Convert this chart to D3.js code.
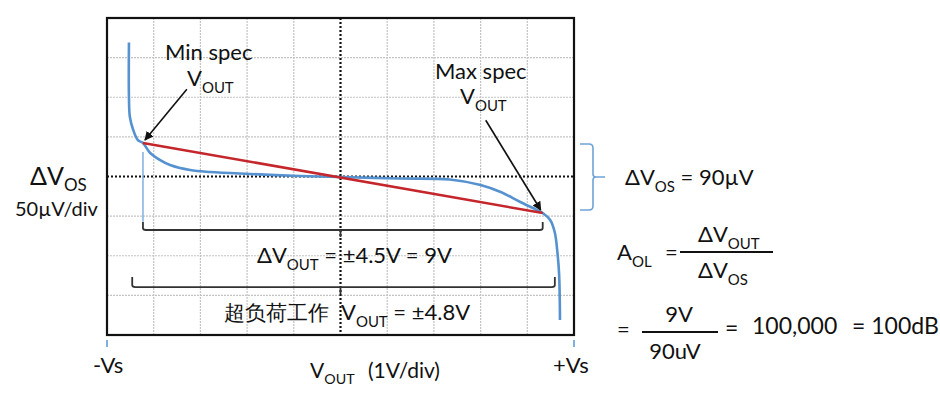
<!DOCTYPE html>
<html>
<head>
<meta charset="utf-8">
<script src="https://cdn.jsdelivr.net/npm/d3@7/dist/d3.min.js"></script>
<style>
  body { margin: 0; background: #fff; }
  text { font-family: Lato, "Noto Sans", sans-serif; fill: #111; }
</style>
</head>
<body>
<div id="chart"></div>
<script>
// V_OUT (volts) vs delta V_OS (microvolts)
var curveV  = [-4.53, -4.53, -4.51, -4.44, -4.34, -4.23, -4.08, -3.87, -3.65, -3.22, -2.79, -1.94, -0.87, 0, 1.27, 2.34, 3.0, 3.43, 3.85, 4.21, 4.33, 4.49, 4.59, 4.64, 4.68, 4.70];
var curveUV = [169, 100, 75, 59, 46, 42.3, 30, 21, 14.5, 8.2, 5.7, 3.2, 0.6, -0.6, -2.5, -3.8, -10.7, -19.6, -32.2, -42.3, -46.1, -55, -71, -93, -122, -181];

// min / max spec points joined by the red line
var specV  = [-4.23, 4.33];
var specUV = [42.3, -46.1];

// where the arrows start (label side)
var arrowFromV  = [-3.29, 3.11];
var arrowFromUV = [110, 71];

// bracket ends (volts)
var innerBracket = [-4.23, 4.33];
var outerBracket = [-4.46, 4.59];

var xDomain = [-5, 5],   // 1V/div
    yDomain = [-200, 200]; // 50uV/div

var margin = { top: 18, left: 107 },
    plotW = 467,
    plotH = 317;

var svg = d3.select("#chart")
    .append("svg")
    .attr("width", 940)
    .attr("height", 395);

var x = d3.scaleLinear().domain(xDomain).range([margin.left, margin.left + plotW]);
var y = d3.scaleLinear().domain(yDomain).range([margin.top + plotH, margin.top]);

var defs = svg.append("defs");
defs.append("marker")
    .attr("id", "arrow")
    .attr("viewBox", "0 0 10 10")
    .attr("refX", 9).attr("refY", 5)
    .attr("markerWidth", 9).attr("markerHeight", 9)
    .attr("markerUnits", "userSpaceOnUse")
    .attr("orient", "auto")
    .append("path")
    .attr("d", "M0,0 L10,5 L0,10 z")
    .attr("fill", "#111");

// grid
var grid = svg.append("g");
grid.selectAll(".vx")
    .data(x.ticks(10))
    .enter().append("line")
    .attr("x1", function (d) { return x(d); })
    .attr("x2", function (d) { return x(d); })
    .attr("y1", y(yDomain[1])).attr("y2", y(yDomain[0]))
    .attr("stroke", function (d) { return d === 0 ? "none" : "#c3c3c3"; })
    .attr("stroke-width", 1.2)
    .attr("stroke-dasharray", "2,1");
grid.selectAll(".hy")
    .data(y.ticks(8))
    .enter().append("line")
    .attr("y1", function (d) { return y(d); })
    .attr("y2", function (d) { return y(d); })
    .attr("x1", x(xDomain[0])).attr("x2", x(xDomain[1]))
    .attr("stroke", function (d) { return d === 0 ? "none" : "#c3c3c3"; })
    .attr("stroke-width", 1.2)
    .attr("stroke-dasharray", "2,1");

// dotted centre lines
svg.append("line")
    .attr("x1", x(0)).attr("x2", x(0))
    .attr("y1", y(yDomain[1])).attr("y2", y(yDomain[0]))
    .attr("stroke", "#111").attr("stroke-width", 2.2)
    .attr("stroke-dasharray", "2,2");
svg.append("line")
    .attr("y1", y(0)).attr("y2", y(0))
    .attr("x1", x(xDomain[0])).attr("x2", x(xDomain[1]))
    .attr("stroke", "#111").attr("stroke-width", 2.2)
    .attr("stroke-dasharray", "2,2");

// frame
svg.append("rect")
    .attr("x", x(xDomain[0])).attr("y", y(yDomain[1]))
    .attr("width", x(xDomain[1]) - x(xDomain[0]))
    .attr("height", y(yDomain[0]) - y(yDomain[1]))
    .attr("fill", "none")
    .attr("stroke", "#111")
    .attr("stroke-width", 2.2);

// thin blue marker under min spec point
svg.append("line")
    .attr("x1", x(specV[0])).attr("x2", x(specV[0]))
    .attr("y1", y(specUV[0]) + 9).attr("y2", y(-57))
    .attr("stroke", "#7fb0e0").attr("stroke-width", 1.5);

// +/-Vs small ticks
svg.selectAll(".vs")
    .data(xDomain)
    .enter().append("line")
    .attr("x1", function (d) { return x(d); })
    .attr("x2", function (d) { return x(d); })
    .attr("y1", y(yDomain[0]) + 5).attr("y2", y(yDomain[0]) + 12)
    .attr("stroke", "#7fb0e0").attr("stroke-width", 2);

// blue curve
var pts = curveV.map(function (v, i) { return [v, curveUV[i]]; });
svg.append("path")
    .datum(pts)
    .attr("fill", "none")
    .attr("stroke", "#5592cf")
    .attr("stroke-width", 2.6)
    .attr("d", d3.line()
        .curve(d3.curveCatmullRom.alpha(0.5))
        .x(function (d) { return x(d[0]); })
        .y(function (d) { return y(d[1]); }));

// red line between spec points
svg.append("line")
    .attr("x1", x(specV[0])).attr("y1", y(specUV[0]))
    .attr("x2", x(specV[1])).attr("y2", y(specUV[1]))
    .attr("stroke", "#c4262b")
    .attr("stroke-width", 2.6);

// arrows
specV.forEach(function (v, i) {
    svg.append("line")
        .attr("x1", x(arrowFromV[i])).attr("y1", y(arrowFromUV[i]))
        .attr("x2", x(v) + (i === 0 ? 2 : -2)).attr("y2", y(specUV[i]) - 3)
        .attr("stroke", "#111")
        .attr("stroke-width", 1.6)
        .attr("marker-end", "url(#arrow)");
});

// brackets
function bracket(ends, uv, tick) {
    var yy = y(uv), x0 = x(ends[0]), x1 = x(ends[1]);
    svg.append("path")
        .attr("d", "M" + x0 + "," + (yy - tick) + " V" + (yy - 2) + " Q" + x0 + "," + yy + " " + (x0 + 3) + "," + yy +
            " H" + (x1 - 3) + " Q" + x1 + "," + yy + " " + x1 + "," + (yy - 2) + " V" + (yy - tick) +
            " M" + x(0) + "," + yy + " v7")
        .attr("fill", "none")
        .attr("stroke", "#333")
        .attr("stroke-width", 1.8);
}
bracket(innerBracket, -67.5, 8);
bracket(outerBracket, -139.5, 10);

// blue brace on right
(function () {
    var y0 = y(specUV[0]) + 1, y1 = y(specUV[1]) - 3, ym = (y0 + y1) / 2;
    var bx = 580, mx = 593;
    svg.append("path")
        .attr("d", "M" + bx + "," + y0 + " H" + (mx - 4) + " Q" + mx + "," + y0 + " " + mx + "," + (y0 + 4) +
            " V" + (ym - 3) + " Q" + mx + "," + ym + " " + (mx + 3) + "," + ym + " H605" +
            " M" + (mx + 3) + "," + ym + " Q" + mx + "," + ym + " " + mx + "," + (ym + 3) +
            " V" + (y1 - 4) + " Q" + mx + "," + y1 + " " + (mx - 4) + "," + y1 + " H" + bx)
        .attr("fill", "none")
        .attr("stroke", "#6fa3d8")
        .attr("stroke-width", 1.6);
})();

// text helper: parts = [[string, isSub], ...]
function label(px, py, parts, size, anchor, subShift) {
    var sh = subShift || 0.3;
    var t = svg.append("text")
        .attr("x", px).attr("y", py)
        .attr("font-size", size)
        .attr("text-anchor", anchor || "start");
    var sub = false;
    parts.forEach(function (p) {
        var s = t.append("tspan").text(p[0]);
        if (p[1] && !sub) { s.attr("font-size", size * 0.68).attr("dy", size * sh); sub = true; }
        else if (!p[1] && sub) { s.attr("dy", -size * sh); sub = false; }
    });
    return t;
}

label(165, 60, [["Min spec"]], 22);
label(187, 86, [["V"], ["OUT", 1]], 22);
label(435, 79, [["Max spec"]], 22);
label(460, 104, [["V"], ["OUT", 1]], 22);

label(257, 263, [["\u0394V"], ["OUT", 1], [" = \u00b14.5V = 9V"]], 22);
label(224, 320, [["\u8d85\u8d1f\u8377\u5de5\u4f5c"]], 21)
    .attr("font-family", "'Noto Sans CJK SC', sans-serif");
label(341, 320, [["V"], ["OUT", 1], [" = \u00b14.8V"]], 22);

label(93, 373, [["-Vs"]], 22);
label(553, 373, [["+Vs"]], 22);
label(310, 378, [["V"], ["OUT", 1]], 21);
label(368, 378, [["(1V/div)"]], 21);

label(30, 185, [["\u0394V"], ["OS", 1]], 25, "start", 0.22);
label(15, 216, [["50\u00b5V/div"]], 20);

label(625, 185, [["\u0394V"], ["OS", 1], [" = 90\u00b5V"]], 22);

label(617, 260, [["A"], ["OL", 1]], 22);
label(665, 260, [["="]], 22);
svg.append("line").attr("x1", 680).attr("x2", 773).attr("y1", 252).attr("y2", 252)
    .attr("stroke", "#111").attr("stroke-width", 2);
label(698, 242, [["\u0394V"], ["OUT", 1]], 22);
label(698, 278, [["\u0394V"], ["OS", 1]], 22);

label(617, 337, [["="]], 22);
svg.append("line").attr("x1", 642).attr("x2", 718).attr("y1", 332).attr("y2", 332)
    .attr("stroke", "#111").attr("stroke-width", 2);
label(679, 322, [["9V"]], 22, "middle");
label(675, 359, [["90uV"]], 22, "middle");
label(725, 336, [["="]], 23);
label(752, 334, [["100,000"]], 23);
label(852, 334, [["= 100dB"]], 23);
</script>
</body>
</html>
